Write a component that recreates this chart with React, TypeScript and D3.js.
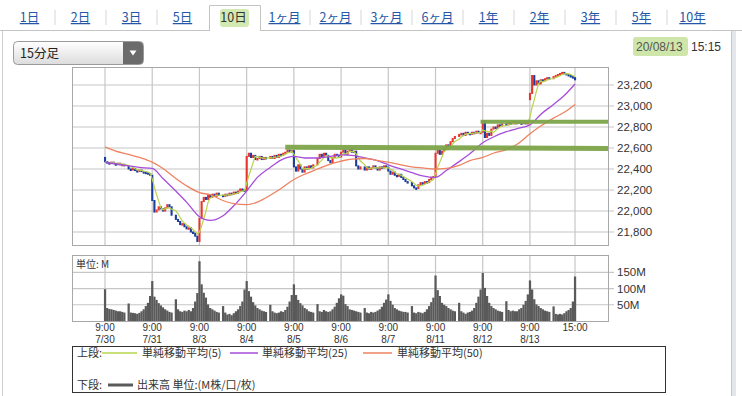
import React from "react";
import * as d3 from "d3";

// ---- data (Nikkei 225, 15分足, 10日) ----
const days = ["7/30", "7/31", "8/3", "8/4", "8/5", "8/6", "8/7", "8/11", "8/12", "8/13"];
// one trading day on the x axis; 11:30 is the lunch slot without a bar
const slotTimes = ["9:00", "9:15", "9:30", "9:45", "10:00", "10:15", "10:30", "10:45", "11:00", "11:15", "11:30",
  "12:30", "12:45", "13:00", "13:15", "13:30", "13:45", "14:00", "14:15", "14:30", "14:45", "15:00"];
const barTimes = ["9:00", "9:15", "9:30", "9:45", "10:00", "10:15", "10:30", "10:45", "11:00", "11:15",
  "12:30", "12:45", "13:00", "13:15", "13:30", "13:45", "14:00", "14:15", "14:30", "14:45", "15:00"];

const dayOpen = [22510, 22340, 21710, 22195, 22575, 22514, 22418, 22329, 22750, 23060];

const close0730 = [22470, 22460, 22455, 22465, 22450, 22445, 22455, 22440, 22445, 22430, 22400, 22390, 22405, 22385, 22380, 22390, 22375, 22370, 22365, 22355, 22340];
const close0731 = [22100, 21990, 22010, 22040, 22020, 22000, 22030, 22060, 22040, 21960, 21920, 21900, 21870, 21880, 21850, 21830, 21840, 21800, 21790, 21760, 21710];
const close0803 = [21930, 22090, 22130, 22110, 22150, 22130, 22160, 22140, 22170, 22150, 22140, 22160, 22150, 22170, 22160, 22180, 22170, 22190, 22210, 22200, 22195];
const close0804 = [22520, 22550, 22510, 22530, 22490, 22500, 22520, 22490, 22510, 22500, 22520, 22500, 22530, 22510, 22540, 22530, 22550, 22560, 22580, 22570, 22575];
const close0805 = [22420, 22380, 22440, 22400, 22370, 22420, 22400, 22430, 22410, 22440, 22500, 22540, 22520, 22550, 22530, 22480, 22460, 22510, 22540, 22530, 22514];
const close0806 = [22560, 22580, 22540, 22570, 22590, 22560, 22570, 22430, 22400, 22420, 22390, 22420, 22400, 22410, 22430, 22410, 22390, 22420, 22410, 22430, 22418];
const close0807 = [22380, 22350, 22370, 22340, 22330, 22350, 22320, 22300, 22280, 22270, 22240, 22220, 22215, 22250, 22270, 22260, 22280, 22270, 22300, 22320, 22329];
const close0811 = [22550, 22580, 22540, 22570, 22600, 22630, 22620, 22660, 22690, 22710, 22730, 22740, 22720, 22750, 22740, 22730, 22750, 22740, 22760, 22745, 22750];
const close0812 = [22860, 22700, 22740, 22720, 22780, 22800, 22790, 22820, 22810, 22830, 22820, 22840, 22830, 22850, 22830, 22850, 22840, 22830, 22850, 22830, 22843];
const close0813 = [23120, 23290, 23200, 23240, 23210, 23250, 23240, 23260, 23270, 23260, 23280, 23290, 23300, 23310, 23320, 23310, 23300, 23290, 23280, 23270, 23249];
const closesByDay = [close0730, close0731, close0803, close0804, close0805, close0806, close0807, close0811, close0812, close0813];

// volume in millions
const vol0730 = [98, 40, 37, 36, 34, 32, 30, 30, 28, 26, 54, 26, 25, 24, 22, 25, 30, 36, 46, 56, 77];
const vol0731 = [123, 75, 65, 55, 48, 42, 36, 32, 28, 26, 67, 36, 30, 28, 32, 30, 34, 30, 40, 60, 86];
const vol0803 = [184, 113, 87, 72, 51, 40, 36, 32, 28, 26, 46, 26, 20, 22, 18, 24, 30, 36, 46, 60, 97];
const vol0804 = [123, 92, 75, 58, 48, 40, 36, 32, 30, 28, 50, 30, 26, 24, 26, 30, 28, 34, 44, 60, 80];
const vol0805 = [113, 80, 65, 55, 48, 40, 36, 30, 28, 26, 52, 30, 28, 34, 30, 28, 30, 36, 44, 56, 70];
const vol0806 = [82, 78, 52, 46, 36, 34, 32, 30, 28, 26, 40, 26, 24, 28, 26, 28, 32, 36, 44, 56, 66];
const vol0807 = [82, 62, 50, 40, 36, 32, 30, 28, 28, 26, 46, 26, 24, 28, 26, 24, 28, 36, 46, 58, 72];
const vol0811 = [140, 95, 77, 56, 50, 46, 40, 36, 32, 30, 56, 30, 26, 22, 26, 28, 32, 40, 56, 75, 97];
const vol0812 = [148, 102, 77, 56, 46, 40, 36, 32, 30, 28, 61, 34, 30, 32, 30, 30, 36, 40, 50, 62, 82];
const vol0813 = [125, 97, 67, 51, 46, 40, 36, 32, 30, 28, 45, 22, 20, 22, 20, 24, 30, 34, 40, 60, 137];
const volumesByDay = [vol0730, vol0731, vol0803, vol0804, vol0805, vol0806, vol0807, vol0811, vol0812, vol0813];

// moving averages read at 9:00, 10:15, 12:30, 13:45 of each day, plus 8/13 15:00
const maTimes = ["9:00", "10:15", "12:30", "13:45"];
const ma25 = [22465, 22450, 22430, 22415, 22405, 22310, 22190, 22085, 21945, 21910, 21955, 22050,
  22190, 22320, 22415, 22485, 22520, 22505, 22505, 22515, 22535, 22530, 22505, 22485,
  22440, 22405, 22365, 22335, 22320, 22385, 22470, 22545, 22650, 22705, 22755, 22785,
  22820, 22920, 23015, 23100, 23210];
const ma50 = [22610, 22570, 22540, 22510, 22465, 22405, 22310, 22240, 22175, 22155, 22100, 22070,
  22060, 22085, 22150, 22215, 22300, 22350, 22400, 22440, 22475, 22495, 22500, 22485,
  22465, 22445, 22420, 22410, 22400, 22405, 22435, 22480, 22510, 22550, 22585, 22635,
  22735, 22810, 22885, 22940, 23015];

// user-drawn horizontal lines: start (day, time), value at start and at the right edge
const drawnLines = [
  { day: "8/4", time: "14:15", v0: 22608, v1: 22595, w: 5 },
  { day: "8/11", time: "15:00", v0: 22850, v1: 22850, w: 4 },
];

const priceTicks = [21800, 22000, 22200, 22400, 22600, 22800, 23000, 23200];
const volumeTicks = [50, 100, 150];
const tabs = ["1日", "2日", "3日", "5日", "10日", "1ヶ月", "2ヶ月", "3ヶ月", "6ヶ月", "1年", "2年", "3年", "5年", "10年"];
const selectedTab = "10日";

const C_UP = "#e5352c";
const C_DOWN = "#1c3c9e";
const C_MA5 = "#b7d44c";
const C_MA25 = "#a64ddb";
const C_MA50 = "#ef8260";
const C_VOL = "#5a5a5a";
const C_GRID = "#c6c6c6";
const C_DRAWN = "#7ea54a";
const JP = "'Noto Sans CJK JP', 'Noto Sans', sans-serif";
const NUM = "'Liberation Sans', Arial, sans-serif";

const plot = { left: 72, right: 608, top: 67, bottom: 245 };
const vbox = { top: 255, bottom: 321 };

const slotIndex = (day: string, time: string) => days.indexOf(day) * slotTimes.length + slotTimes.indexOf(time);

export default function App() {
  const x = d3.scaleLinear().domain([0, slotIndex("8/13", "15:00")]).range([105, 575]);
  const y = d3.scaleLinear().domain([21800, 23200]).range([232, 85]);
  const yv = d3.scaleLinear().domain([0, 150]).range([vbox.bottom, 272.3]);
  const tabX = d3.scalePoint().domain(tabs).range([29.5, 692.5]);

  const bars = days.flatMap((day, d) =>
    barTimes.map((t, i) => ({
      idx: slotIndex(day, t),
      o: i === 0 ? dayOpen[d] : closesByDay[d][i - 1],
      c: closesByDay[d][i],
      v: volumesByDay[d][i],
    }))
  );
  const ma5 = bars.map((b, k) => ({ idx: b.idx, v: d3.mean(bars.slice(Math.max(0, k - 4), k + 1), (e) => e.c) as number }));
  const maIdx = ma25.map((_, k) => (k < days.length * maTimes.length
    ? slotIndex(days[Math.floor(k / maTimes.length)], maTimes[k % maTimes.length])
    : slotIndex("8/13", "15:00")));

  const line = d3.line<{ idx: number; v: number }>().x((p) => x(p.idx)).y((p) => y(p.v));
  const smooth = d3.line<{ idx: number; v: number }>().x((p) => x(p.idx)).y((p) => y(p.v)).curve(d3.curveMonotoneX);

  const dayGrid = days.map((d) => x(slotIndex(d, "9:00")));
  const xGrid = [...dayGrid, x(slotIndex("8/13", "15:00"))];
  const bw = x(1) - x(0);

  return (
    <div style={{ position: "fixed", left: 0, top: 0 }}>
      <svg width={742} height={396} style={{ display: "block", background: "#fff" }}>
        <defs>
          <linearGradient id="dd" x1="0" y1="0" x2="0" y2="1">
            <stop offset="0" stopColor="#ffffff" />
            <stop offset="1" stopColor="#dcdcdc" />
          </linearGradient>
          <clipPath id="pc">
            <rect x={plot.left} y={plot.top} width={plot.right - plot.left} height={plot.bottom - plot.top} />
          </clipPath>
        </defs>

        {/* tabs */}
        <line x1={0} x2={209} y1={30.5} y2={30.5} stroke="#c4c4c4" />
        <line x1={260} x2={742} y1={30.5} y2={30.5} stroke="#c4c4c4" />
        <path d="M209.5,31 V5.5 H260.5 V31" fill="#fff" stroke="#c4c4c4" />
        {tabs.slice(0, -1).map((t, i) => {
          const mx = ((tabX(t) as number) + (tabX(tabs[i + 1]) as number)) / 2;
          if (t === selectedTab || tabs[i + 1] === selectedTab) return null;
          return <line key={t} x1={mx} x2={mx} y1={10} y2={25} stroke="#d6d6d6" />;
        })}
        <rect x={220} y={9} width={29} height={18} rx={3} fill="#d3e9b2" />
        {tabs.map((t) => (
          <text key={t} x={tabX(t)} y={22} textAnchor="middle" fontFamily={JP} fontSize={12.5}
            fill={t === selectedTab ? "#333" : "#2457a8"}
            style={{ textDecoration: t === selectedTab ? "none" : "underline" }}>{t}</text>
        ))}

        {/* side borders */}
        <line x1={2.5} x2={2.5} y1={31} y2={396} stroke="#cfcfcf" />
        <rect x={732} y={31} width={4} height={365} fill="#e3e7eb" />
        <line x1={731.5} x2={731.5} y1={31} y2={396} stroke="#c9c9c9" />

        {/* dropdown */}
        <rect x={13.5} y={41.5} width={130} height={23} rx={4} fill="url(#dd)" stroke="#9a9a9a" />
        <path d="M123,42 H139.5 a3.5,3.5 0 0 1 3.5,3.5 V60.5 a3.5,3.5 0 0 1 -3.5,3.5 H123 Z" fill="#6b6b6b" />
        <path d="M129.5,50.5 h7 l-3.5,5 z" fill="#fff" />
        <text x={20} y={58} fontFamily={JP} fontSize={12.5} fill="#222">15分足</text>

        {/* timestamp */}
        <rect x={633} y={37} width={55} height={19} rx={3} fill="#cfe6ab" />
        <text x={636} y={51} fontFamily={NUM} fontSize={12} fill="#555">20/08/13</text>
        <text x={691} y={51} fontFamily={NUM} fontSize={12} fill="#333">15:15</text>

        {/* price grid */}
        {priceTicks.map((v) => (
          <g key={v}>
            <line x1={plot.left} x2={plot.right + 6} y1={y(v)} y2={y(v)} stroke={C_GRID} strokeWidth={1.2} />
            <text x={617} y={y(v) + 4} fontFamily={NUM} fontSize={11.5} fill="#333">{d3.format(",")(v)}</text>
          </g>
        ))}
        {xGrid.map((gx, i) => (
          <line key={i} x1={gx} x2={gx} y1={plot.top} y2={plot.bottom} stroke={C_GRID} strokeWidth={1.2} />
        ))}
        <rect x={plot.left + 0.5} y={plot.top + 0.5} width={plot.right - plot.left} height={plot.bottom - plot.top}
          fill="none" stroke="#a8a8a8" />

        <g clipPath="url(#pc)">
          {bars.map((b, k) => {
            const top = y(Math.max(b.o, b.c));
            const h = Math.max(1.5, Math.abs(y(b.o) - y(b.c)));
            return <rect key={k} x={x(b.idx) - 1} y={top - 0.5} width={2.1} height={h + 1} fill={b.c >= b.o ? C_UP : C_DOWN} />;
          })}
          <path d={line(ma5) || ""} fill="none" stroke={C_MA5} strokeWidth={1.2} />
          <path d={smooth(ma25.map((v, k) => ({ idx: maIdx[k], v }))) || ""} fill="none" stroke={C_MA25} strokeWidth={1.3} />
          <path d={smooth(ma50.map((v, k) => ({ idx: maIdx[k], v }))) || ""} fill="none" stroke={C_MA50} strokeWidth={1.3} />
        </g>
        {drawnLines.map((l, i) => (
          <line key={i} x1={x(slotIndex(l.day, l.time))} x2={plot.right} y1={y(l.v0)} y2={y(l.v1)}
            stroke={C_DRAWN} strokeWidth={l.w} opacity={0.95} />
        ))}

        {/* volume panel */}
        {volumeTicks.map((v) => (
          <g key={v}>
            <line x1={plot.left} x2={plot.right + 6} y1={yv(v)} y2={yv(v)} stroke={C_GRID} strokeWidth={1.2} />
            <text x={617} y={yv(v) + 4} fontFamily={NUM} fontSize={11.5} fill="#333">{v}M</text>
          </g>
        ))}
        {xGrid.map((gx, i) => (
          <line key={i} x1={gx} x2={gx} y1={vbox.top} y2={vbox.bottom} stroke={C_GRID} strokeWidth={1.2} />
        ))}
        {bars.map((b, k) => (
          <rect key={k} x={x(b.idx) - bw / 2} y={yv(b.v)} width={bw + 0.1} height={vbox.bottom - yv(b.v)} fill={C_VOL} />
        ))}
        <rect x={plot.left + 0.5} y={vbox.top + 0.5} width={plot.right - plot.left} height={vbox.bottom - vbox.top}
          fill="none" stroke="#a8a8a8" />
        <text x={76} y={268} fontFamily={JP} fontSize={10} fill="#333">単位: M</text>

        {/* x labels */}
        {days.map((d, i) => (
          <g key={d} fontFamily={NUM} fontSize={10} fill="#333" textAnchor="middle">
            <text x={dayGrid[i]} y={330.5}>9:00</text>
            <text x={dayGrid[i]} y={342.5}>{d}</text>
          </g>
        ))}
        <text x={x(slotIndex("8/13", "15:00"))} y={330.5} fontFamily={NUM} fontSize={10} fill="#333" textAnchor="middle">15:00</text>

        {/* legend */}
        <rect x={72.5} y={346.5} width={593} height={46} fill="#fff" stroke="#333" />
        <g fontFamily={JP} fontSize={11} fill="#333">
          <text x={77} y={357}>上段:</text>
          <line x1={102} x2={137} y1={353} y2={353} stroke={C_MA5} strokeWidth={1.5} />
          <text x={142} y={357}>単純移動平均(5)</text>
          <line x1={230} x2={258} y1={353} y2={353} stroke={C_MA25} strokeWidth={1.5} />
          <text x={262} y={357}>単純移動平均(25)</text>
          <line x1={363} x2={392} y1={353} y2={353} stroke={C_MA50} strokeWidth={1.5} />
          <text x={397} y={357}>単純移動平均(50)</text>
          <text x={77} y={389}>下段:</text>
          <line x1={108} x2={133} y1={385} y2={385} stroke={C_VOL} strokeWidth={3} />
          <text x={137} y={389}>出来高 単位:(M株/口/枚)</text>
        </g>
      </svg>
    </div>
  );
}
